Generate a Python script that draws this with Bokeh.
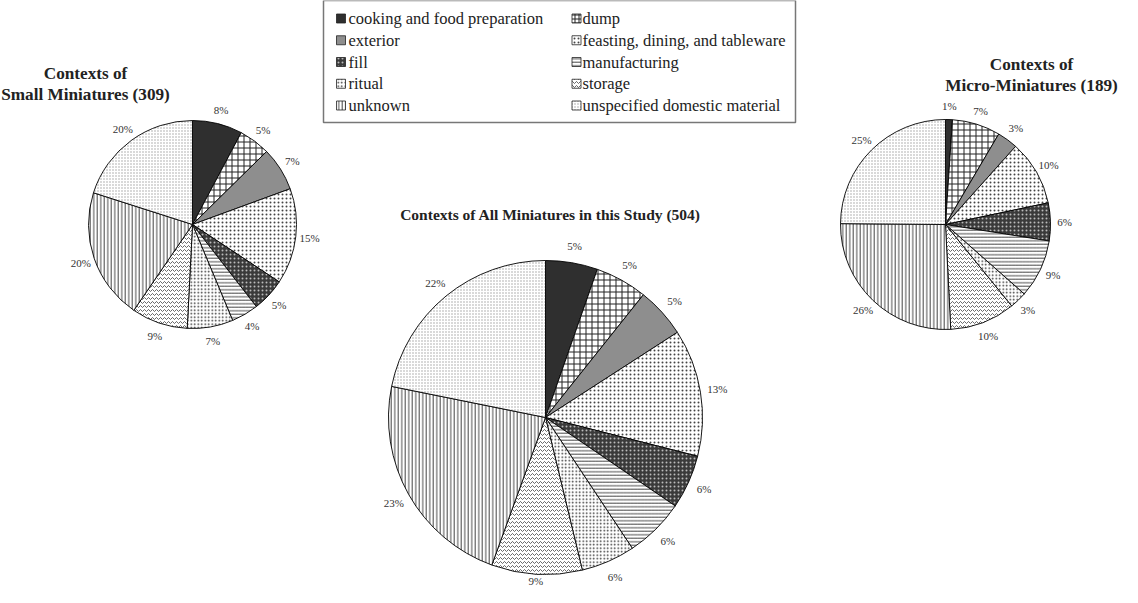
import math
from bokeh.plotting import figure
from bokeh.models import ColumnDataSource, Range1d
from bokeh.core.properties import value
from bokeh.embed import file_html
from bokeh.resources import INLINE

# ---------------- data ----------------
categories = ["cooking and food preparation", "dump", "exterior",
              "feasting, dining, and tableware", "fill", "manufacturing",
              "ritual", "storage", "unknown", "unspecified domestic material"]

small_counts = [24, 15, 21, 46, 16, 13, 22, 27, 63, 62]      # 309
all_counts = [27, 27, 26, 66, 28, 31, 28, 47, 114, 110]      # 504
micro_counts = [2, 14, 6, 19, 11, 17, 5, 19, 49, 47]         # 189

titles = {
    "small": ["Contexts of", "Small Miniatures (309)"],
    "all": ["Contexts of All Miniatures in this Study (504)"],
    "micro": ["Contexts of", "Micro-Miniatures (189)"],
}

# ---------------- styles ----------------
fill_colors = ["#2f2f2f", "white", "#8e8e8e", "white", "#3a3a3a",
               "white", "white", "white", "white", "white"]
hatch_patterns = [" ", "cross", " ", "dot", "dot",
                  "horizontal_line", "dot", "horizontal_wave", "vertical_line", "dot"]
hatch_colors = ["black", "#222222", "black", "#444444", "#bbbbbb",
                "#333333", "#333333", "#444444", "#333333", "#a0a0a0"]
hatch_scales = [6, 6, 6, 4, 4, 3.5, 3.5, 4, 3.5, 3]
hatch_weights = [1, 1, 1, 1.1, 1.2, 0.9, 1.1, 0.8, 0.9, 0.8]

W, H = 1122, 587
SERIF = "Liberation Serif"


def X(px):
    return px - 8


def Y(py):
    return (H + 8) - py


p = figure(width=W, height=H, output_backend="svg", toolbar_location=None,
           x_range=Range1d(0, W), y_range=Range1d(0, H), min_border=0,
           background_fill_color="white", border_fill_color="white")
p.axis.visible = False
p.xgrid.visible = False
p.ygrid.visible = False
p.outline_line_color = None


def draw_pie(counts, cx, cy, r, label_off, label_size):
    total = float(sum(counts))
    cum = 0.0
    starts, ends, lx, ly, labels = [], [], [], [], []
    for c in counts:
        f0 = cum / total
        cum += c
        f1 = cum / total
        starts.append(math.pi / 2 - f1 * 2 * math.pi)
        ends.append(math.pi / 2 - f0 * 2 * math.pi)
        mid = math.pi / 2 - (f0 + f1) / 2 * 2 * math.pi
        lx.append(X(cx) + (r + label_off) * math.cos(mid))
        ly.append(max(Y(cy) + (r + label_off) * math.sin(mid), 6.5))
        labels.append("%d%%" % int(c * 100.0 / total + 0.5))
    src = ColumnDataSource(dict(
        x=[X(cx)] * len(counts), y=[Y(cy)] * len(counts),
        start=starts, end=ends, fill=fill_colors, hp=hatch_patterns,
        hc=hatch_colors, hs=hatch_scales, hw=hatch_weights))
    p.wedge(x="x", y="y", radius=r, start_angle="start", end_angle="end",
            source=src, fill_color="fill", hatch_pattern="hp", hatch_color="hc",
            hatch_scale="hs", hatch_weight="hw", line_color="black", line_width=0.9)
    lsrc = ColumnDataSource(dict(x=lx, y=ly, t=labels))
    p.text(x="x", y="y", text="t", source=lsrc, text_font=value(SERIF),
           text_font_size=label_size, text_color="#333333",
           text_align="center", text_baseline="middle")


draw_pie(small_counts, 200, 232, 104, 14, "11px")
draw_pie(all_counts, 553, 425, 157, 17, "11px")
draw_pie(micro_counts, 953, 232, 105, 14, "11px")


def draw_title(lines, cx, y0, size, step):
    ys = [Y(y0 + i * step) for i in range(len(lines))]
    p.text(x=[X(cx)] * len(lines), y=ys, text=lines, text_font=value(SERIF),
           text_font_size=size, text_font_style="bold", text_color="#222222",
           text_align="center", text_baseline="middle")


draw_title(titles["small"], 93, 81, "17.2px", 21)
draw_title(titles["all"], 558, 222, "15.5px", 20)
draw_title(titles["micro"], 1039, 72, "17.2px", 21)

# ---------------- legend ----------------
box_l, box_t, box_r, box_b = 331, 8, 803, 130
p.quad(left=X(box_l), right=X(box_r), top=Y(box_t), bottom=Y(box_b),
       fill_color="white", line_color="#777777", line_width=1.5)
col_sq = [348.5, 584]
col_tx = [356, 590]
row_y0, row_dy = 26, 21.75
sx, sy, tx, ty = [], [], [], []
for i, cat in enumerate(categories):
    row, col = divmod(i, 2)
    sx.append(X(col_sq[col]))
    sy.append(Y(row_y0 + row * row_dy))
    tx.append(X(col_tx[col]))
    ty.append(Y(row_y0 + row * row_dy))
lg = ColumnDataSource(dict(x=sx, y=sy, fill=fill_colors, hp=hatch_patterns,
                           hc=hatch_colors, hs=[min(s, 4) for s in hatch_scales],
                           hw=hatch_weights))
p.rect(x="x", y="y", width=9, height=9, source=lg, fill_color="fill",
       hatch_pattern="hp", hatch_color="hc", hatch_scale="hs", hatch_weight="hw",
       line_color="#222222", line_width=0.8)
p.text(x=tx, y=ty, text=categories, text_font=value(SERIF), text_font_size="16.5px",
       text_color="#222222", text_align="left", text_baseline="middle")

open("out.html", "w").write(file_html(p, INLINE))
